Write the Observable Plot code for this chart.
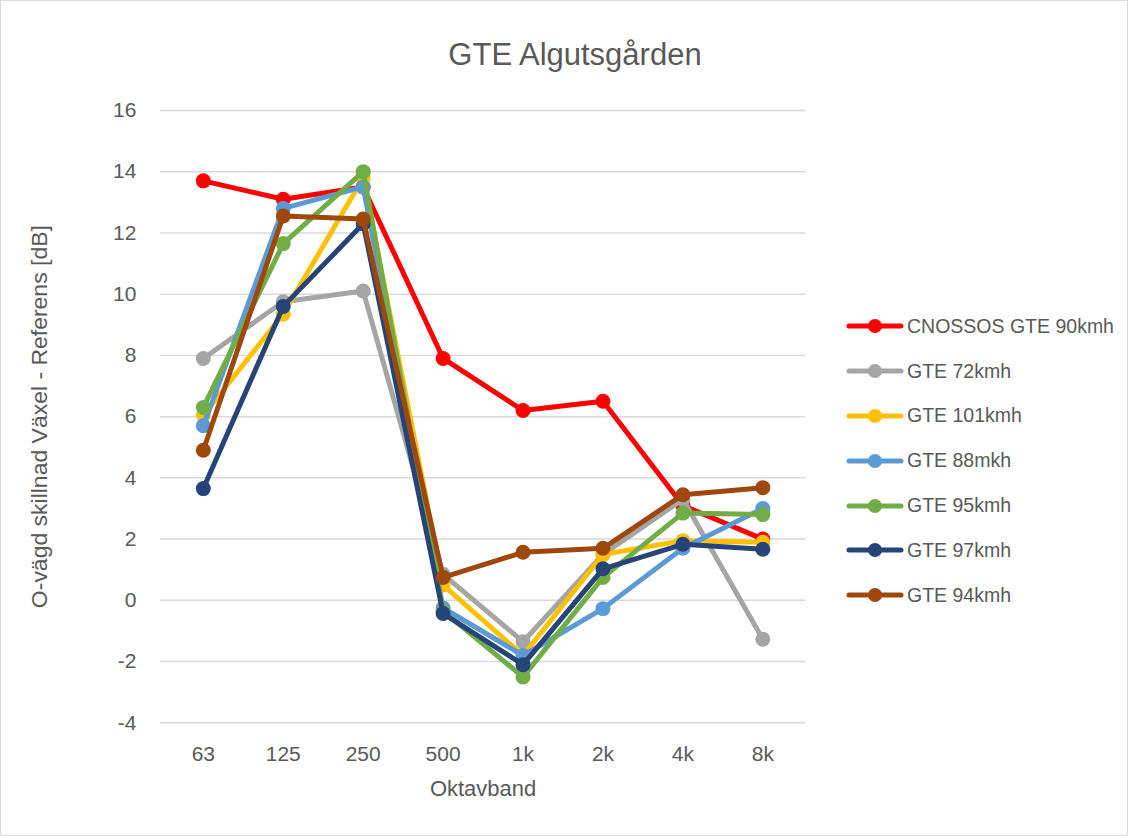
<!DOCTYPE html>
<html>
<head>
<meta charset="utf-8">
<script src="https://cdn.jsdelivr.net/npm/d3@7"></script>
<script src="https://cdn.jsdelivr.net/npm/@observablehq/plot@0.6"></script>
<style>
  html, body { margin: 0; padding: 0; background: #fff; }
  #wrap { position: relative; width: 1128px; height: 836px; box-sizing: border-box; border: 1px solid #d9d9d9; font-family: "Liberation Sans", Arial, sans-serif; overflow: hidden; }
  #chart { position: absolute; left: -1px; top: -1px; }
  #title { position: absolute; top: 36px; left: 574px; transform: translateX(-50%); font-size: 31px; color: #595959; white-space: nowrap; }
  #legend { position: absolute; left: 845px; top: 303px; }
  .item { display: flex; align-items: center; height: 44.8px; font-size: 19.5px; color: #595959; white-space: nowrap; }
  .item svg { margin-right: 3px; }
</style>
</head>
<body>
<div id="wrap">
  <div id="chart"></div>
  <div id="title">GTE Algutsgården</div>
  <div id="legend"></div>
</div>
<script>
const bands = ["63", "125", "250", "500", "1k", "2k", "4k", "8k"];
const seriesNames = ["CNOSSOS GTE 90kmh", "GTE 72kmh", "GTE 101kmh", "GTE 88mkh", "GTE 95kmh", "GTE 97kmh", "GTE 94kmh"];
const seriesColors = ["#FF0000", "#A5A5A5", "#FFC000", "#5B9BD5", "#70AD47", "#264478", "#9E480E"];
const cnossos90 = [13.7, 13.1, 13.5, 7.9, 6.2, 6.5, 3.1, 2.0];
const gte72 = [7.9, 9.75, 10.1, 0.85, -1.35, 1.5, 3.3, -1.27];
const gte101 = [6.05, 9.35, 13.8, 0.5, -1.8, 1.5, 1.95, 1.9];
const gte88 = [5.7, 12.8, 13.5, -0.25, -1.8, -0.27, 1.7, 3.0];
const gte95 = [6.3, 11.65, 14.0, -0.35, -2.5, 0.75, 2.85, 2.8];
const gte97 = [3.65, 9.6, 12.3, -0.43, -2.1, 1.03, 1.83, 1.67];
const gte94 = [4.9, 12.55, 12.45, 0.75, 1.57, 1.7, 3.45, 3.68];
const yTicks = [-4, -2, 0, 2, 4, 6, 8, 10, 12, 14, 16];

const allSeries = [cnossos90, gte72, gte101, gte88, gte95, gte97, gte94];
const rows = [];
allSeries.forEach((vals, si) => {
  vals.forEach((v, i) => rows.push({ series: seriesNames[si], band: bands[i], value: v, order: si }));
});

const marks = [
  Plot.gridY(yTicks, { stroke: "#d9d9d9", strokeOpacity: 1, strokeWidth: 1.5 }),
  Plot.axisY(yTicks, { tickSize: 0, tickPadding: 24, fontSize: 21, fill: "#595959", label: null, tickFormat: d => String(d) }),
  Plot.axisX(bands, { tickSize: 0, tickPadding: 23, fontSize: 21, fill: "#595959", label: null }),
  Plot.text(["O-vägd skillnad Växel - Referens [dB]"], { frameAnchor: "left", textAnchor: "middle", rotate: -90, dx: -121, fontSize: 23, fill: "#595959" }),
  Plot.text(["Oktavband"], { frameAnchor: "bottom", dy: 73, fontSize: 22, fill: "#595959" })
];
seriesNames.forEach((name, si) => {
  const d = rows.filter(r => r.order === si);
  marks.push(Plot.line(d, { x: "band", y: "value", stroke: seriesColors[si], strokeWidth: 5, strokeLinejoin: "round", strokeLinecap: "round" }));
  marks.push(Plot.dot(d, { x: "band", y: "value", fill: seriesColors[si], r: 7.5, stroke: "none" }));
});

const chart = Plot.plot({
  width: 1128,
  height: 836,
  marginLeft: 160,
  marginRight: 322,
  marginTop: 110,
  marginBottom: 113,
  style: { fontFamily: "'Liberation Sans', Arial, sans-serif", background: "transparent" },
  x: { type: "point", domain: bands, padding: 0.5, axis: null },
  y: { domain: [-4, 16], axis: null },
  marks
});
document.getElementById("chart").appendChild(chart);

const legend = document.getElementById("legend");
seriesNames.forEach((name, si) => {
  const item = document.createElement("div");
  item.className = "item";
  item.innerHTML = `<svg width="58" height="16"><line x1="3" y1="8" x2="55" y2="8" stroke="${seriesColors[si]}" stroke-width="5" stroke-linecap="round"/><circle cx="29" cy="8" r="7" fill="${seriesColors[si]}"/></svg><span>${name}</span>`;
  legend.appendChild(item);
});
</script>
</body>
</html>
